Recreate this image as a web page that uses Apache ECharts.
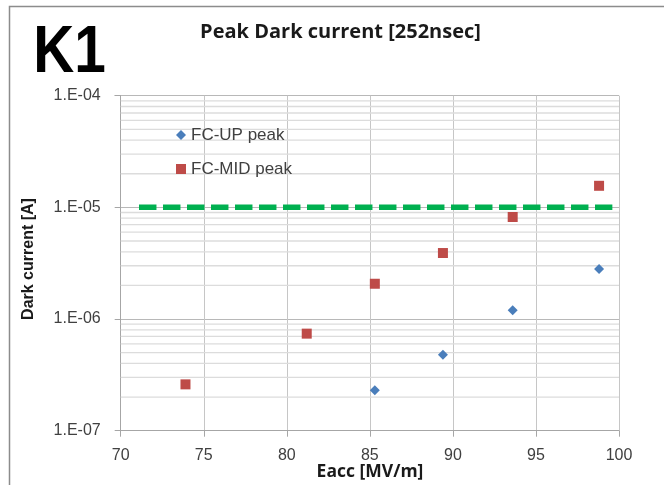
<!DOCTYPE html>
<html>
<head>
<meta charset="utf-8">
<title>Peak Dark current [252nsec]</title>
<script src="https://cdn.jsdelivr.net/npm/echarts@6/dist/echarts.min.js"></script>
<style>
  html, body { margin: 0; padding: 0; background: #ffffff; }
  #chart { width: 664px; height: 485px; }
</style>
</head>
<body>
<div id="chart"></div>
<script>
// Accelerating gradient (MV/m) and peak dark current (A) per Faraday cup
const upEacc = [85.3, 89.4, 93.6, 98.8];
const upPeak = [2.3e-7, 4.8e-7, 1.2e-6, 2.8e-6];
const midEacc = [73.9, 81.2, 85.3, 89.4, 93.6, 98.8];
const midPeak = [2.6e-7, 7.4e-7, 2.07e-6, 3.9e-6, 8.2e-6, 1.56e-5];

// Dark current limit (1e-5 A)
const limitEacc = [71.1, 99.6];
const limitCurrent = [1e-5, 1e-5];

// Axis ranges and tick labels
const xTicks = [70, 75, 80, 85, 90, 95, 100];
const yTickLabels = ['1.E-07', '1.E-06', '1.E-05', '1.E-04'];

const FONT = '"Liberation Sans", Arial, sans-serif';
const TITLE_FONT = '"Open Sans", "Liberation Sans", sans-serif';
const zip = (xs, ys) => xs.map((x, i) => [x, ys[i]]);

// Log minor grid levels at 2..9 x 10^n
const minorLevels = [];
for (let n = -7; n < -4; n++) {
  for (let k = 2; k <= 9; k++) minorLevels.push(k * Math.pow(10, n));
}

const chart = echarts.init(document.getElementById('chart'), null, { renderer: 'canvas' });

chart.setOption({
  animation: false,
  backgroundColor: '#ffffff',
  textStyle: { fontFamily: FONT },
  grid: { left: 120.7, right: 45, top: 95.7, bottom: 54.3, containLabel: false },
  graphic: [
    // slide frame
    { type: 'polyline', silent: true, z: 0,
      shape: { points: [[9.5, 485], [9.5, 6.5], [664, 6.5]] },
      style: { stroke: '#8c8c8c', lineWidth: 1.5, fill: null } },
    { type: 'text', x: 69.5, y: 54, scaleX: 0.86, z: 10,
      style: { text: 'K1', font: 'bold 66px ' + FONT, fill: '#000000', align: 'center', verticalAlign: 'middle' } },
    { type: 'text', x: 340.5, y: 32, z: 10,
      style: { text: 'Peak Dark current [252nsec]', font: 'bold 20px ' + TITLE_FONT, fill: '#1a1a1a', align: 'center', verticalAlign: 'middle' } },
    { type: 'text', x: 370, y: 472, z: 10,
      style: { text: 'Eacc [MV/m]', font: 'bold 17.5px ' + TITLE_FONT, fill: '#1a1a1a', align: 'center', verticalAlign: 'middle' } },
    { type: 'text', x: 28.5, y: 259, rotation: Math.PI / 2, z: 10,
      style: { text: 'Dark current [A]', font: 'bold 16px ' + FONT, fill: '#1a1a1a', align: 'center', verticalAlign: 'middle' } }
  ],
  legend: {
    orient: 'vertical',
    left: 176, top: 125,
    padding: 0,
    itemWidth: 10, itemHeight: 10, itemGap: 14,
    textStyle: { fontSize: 17, lineHeight: 20, color: '#404040', fontFamily: FONT },
    data: [
      { name: 'FC-UP peak', icon: 'diamond' },
      { name: 'FC-MID peak', icon: 'rect' }
    ]
  },
  xAxis: {
    type: 'value',
    min: xTicks[0], max: xTicks[xTicks.length - 1], interval: 5,
    axisLine: { show: true, lineStyle: { color: '#a6a6a6', width: 1 } },
    axisTick: { show: true, length: 6, lineStyle: { color: '#a6a6a6' } },
    axisLabel: { fontSize: 16, color: '#404040', margin: 17, fontFamily: FONT },
    splitLine: { show: true, lineStyle: { color: '#c6c6c6', width: 1 } }
  },
  yAxis: {
    type: 'log', logBase: 10,
    min: 1e-7, max: 1e-4,
    axisLine: { show: true, lineStyle: { color: '#a6a6a6', width: 1 } },
    axisTick: { show: true, length: 6, lineStyle: { color: '#a6a6a6' } },
    axisLabel: {
      fontSize: 16, color: '#404040', margin: 20, fontFamily: FONT,
      formatter: (v, i) => yTickLabels[i]
    },
    splitLine: { show: true, lineStyle: { color: '#b8b8b8', width: 1 } }
  },
  series: [
    {
      // minor horizontal grid across the plot at each 2..9 sub-decade level
      name: 'minor grid', type: 'custom', silent: true, z: 1,
      data: minorLevels.map(v => [v]),
      encode: { y: 0 },
      renderItem: (params, api) => {
        const v = api.value(0);
        const p0 = api.coord([xTicks[0], v]);
        const p1 = api.coord([xTicks[xTicks.length - 1], v]);
        return {
          type: 'line',
          shape: { x1: p0[0], y1: p0[1], x2: p1[0], y2: p1[1] },
          style: { stroke: '#dcdcdc', lineWidth: 1.3 }
        };
      }
    },
    {
      name: 'limit', type: 'line', data: zip(limitEacc, limitCurrent),
      showSymbol: false, symbol: 'none', silent: true, z: 3,
      lineStyle: { color: '#00b050', width: 5.5, type: [17.5, 6.5], cap: 'butt' }
    },
    {
      name: 'FC-UP peak', type: 'scatter', data: zip(upEacc, upPeak),
      symbol: 'diamond', symbolSize: 10, z: 5,
      itemStyle: { color: '#4a7ebb', opacity: 1 }
    },
    {
      name: 'FC-MID peak', type: 'scatter', data: zip(midEacc, midPeak),
      symbol: 'rect', symbolSize: 10, z: 5,
      itemStyle: { color: '#be4b48', opacity: 1 }
    }
  ]
});
</script>
</body>
</html>
